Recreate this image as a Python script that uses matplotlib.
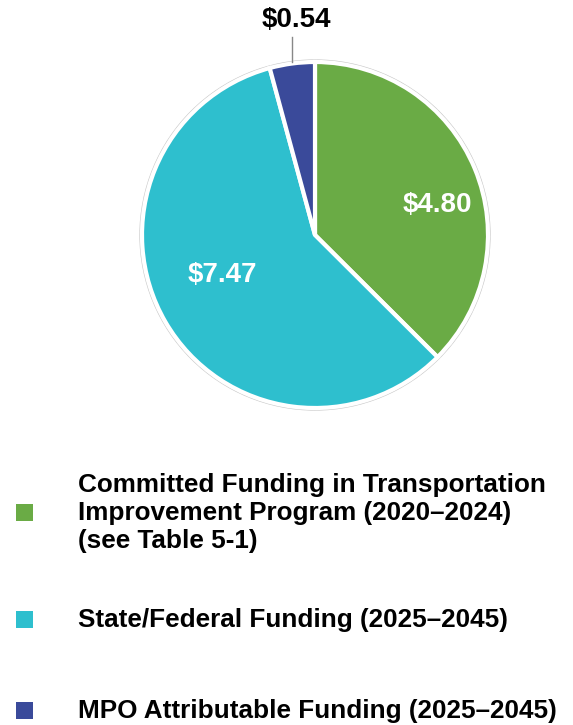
import matplotlib
matplotlib.use("Agg")
import matplotlib.pyplot as plt
from matplotlib.patches import Circle, Rectangle

# Funding amounts (billions of dollars)
categories = [
    "Committed Funding in Transportation\nImprovement Program (2020\u20132024)\n(see Table 5-1)",
    "State/Federal Funding (2025\u20132045)",
    "MPO Attributable Funding (2025\u20132045)",
]
values = [4.80, 7.47, 0.54]
colors = ["#6aab45", "#2ebfce", "#3a4a9a"]

plt.rcParams["font.family"] = ["Liberation Sans", "DejaVu Sans"]

W, H = 573, 725
fig = plt.figure(figsize=(W / 100, H / 100), dpi=100)
ax = fig.add_axes([0, 0, 1, 1])

cx, cy, r = 315, H - 235, 173

# soft outer rim
ax.add_patch(Circle((cx, cy), r + 1.8, facecolor="none", edgecolor="#c8c8c8", lw=1.2, zorder=1))

wedges, _ = ax.pie(
    values, colors=colors, startangle=90, counterclock=False,
    center=(cx, cy), radius=r, frame=True,
    wedgeprops=dict(edgecolor="white", linewidth=3),
)
ax.set_xlim(0, W)
ax.set_ylim(0, H)
ax.set_aspect("equal")
ax.axis("off")

def money(v):
    return "\\$" + f"{v:.2f}"

# value labels
ax.text(437, H - 205, money(values[0]), color="white", fontsize=20, fontweight="bold",
        ha="center", va="center")
ax.text(222, H - 275, money(values[1]), color="white", fontsize=20, fontweight="bold",
        ha="center", va="center")
ax.text(296, H - 20, money(values[2]), color="black", fontsize=20, fontweight="bold",
        ha="center", va="center")
ax.plot([292, 292], [H - 37, H - 62], color="#888888", lw=1)

# legend
legend_y = [513, 620, 711]
for lab, col, y in zip(categories, colors, legend_y):
    ax.add_patch(Rectangle((16, H - y - 8), 17, 17, facecolor=col, edgecolor="none"))
    ax.text(78, H - y, lab, fontsize=18.8, fontweight="bold", ha="left", va="center",
            linespacing=1.22)

fig.savefig("out.png", dpi=100)
